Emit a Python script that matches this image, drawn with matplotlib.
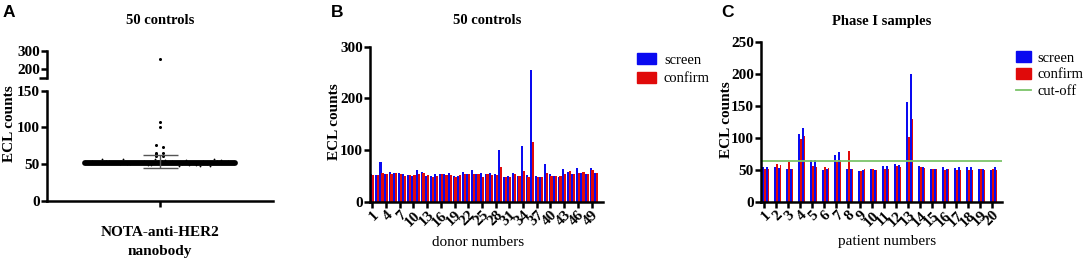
import numpy as np
import matplotlib
matplotlib.use('Agg')
import matplotlib.pyplot as plt
from matplotlib.patches import Patch
from matplotlib.lines import Line2D

W, H = 1084, 261

# panel B: 50 controls, screen / confirm ECL counts
donors = np.arange(1, 51)
donor_screen = [54, 51, 76, 53, 57, 55, 55, 53, 52, 50,
                61, 57, 50, 50, 53, 53, 53, 55, 49, 49,
                57, 54, 61, 54, 56, 53, 55, 53, 100, 48,
                50, 56, 49, 108, 52, 255, 49, 48, 73, 54,
                50, 47, 64, 57, 54, 65, 56, 53, 65, 55]
donor_confirm = [52, 51, 55, 54, 54, 55, 53, 50, 52, 51,
                 54, 55, 51, 48, 50, 54, 52, 52, 48, 51,
                 54, 53, 53, 53, 48, 53, 52, 51, 67, 48,
                 47, 53, 49, 59, 48, 116, 48, 48, 56, 50,
                 50, 50, 54, 59, 54, 55, 57, 54, 62, 55]

# panel C: phase I patients, two samples each
patients = np.arange(1, 21)
pat_screen_1 = [55, 55, 52, 106, 65, 49, 74, 51, 48, 52,
                56, 59, 157, 56, 52, 54, 53, 54, 52, 49]
pat_confirm_1 = [52, 59, 63, 98, 56, 55, 63, 80, 48, 51,
                 52, 56, 102, 55, 51, 50, 50, 50, 52, 51]
pat_screen_2 = [55, 53, 52, 115, 65, 52, 78, 52, 50, 50,
                56, 57, 201, 54, 52, 52, 54, 54, 52, 54]
pat_confirm_2 = [52, 57, 51, 103, 55, 53, 66, 51, 51, 49,
                 52, 55, 130, 53, 51, 52, 49, 50, 50, 50]
cutoff = 64

# panel A: centre line and error bar
a_center = 52
a_err_low, a_err_high = 45, 63

BLUE = '#0a0af0'
RED = '#e00a0a'
GREEN = '#7cc46a'

plt.rcParams['font.family'] = ['Liberation Serif', 'DejaVu Serif']
plt.rcParams['font.weight'] = 'bold'
plt.rcParams['font.size'] = 10

fig = plt.figure(figsize=(W / 100, H / 100), dpi=100)


def box(l, t, r, b):
    return fig.add_axes([l / W, 1 - b / H, (r - l) / W, (b - t) / H])


def style(ax, lw=1.8):
    for s in ['top', 'right']:
        ax.spines[s].set_visible(False)
    for s in ['left', 'bottom']:
        ax.spines[s].set_linewidth(lw)
    ax.tick_params(width=lw, length=4, labelsize=11, pad=1)


def ftext(x, y, s, **kw):
    fig.text(x / W, 1 - y / H, s, **kw)


# ---- panel A ----
axA = box(46.7, 90.7, 273, 201)
axAu = box(46.7, 50.7, 273, 78.3)
style(axA)
style(axAu)
axAu.spines['bottom'].set_visible(False)
axAu.set_xticks([])
axA.set_xlim(-1, 1)
axAu.set_xlim(-1, 1)
axA.set_ylim(0, 150)
axAu.set_ylim(151.6, 300)
axA.set_yticks([0, 50, 100, 150])
axAu.set_yticks([200, 300])
axA.set_xticks([0])
axA.set_xticklabels([''])
axAu.plot([-0.035, 0], [0, 0], transform=axAu.transAxes, color='k', lw=1.8,
          clip_on=False, solid_capstyle='butt')

vals = np.array(donor_screen)
band = vals < 58
xb = np.linspace(-0.6, 0.6, band.sum())
axA.plot(xb, vals[band], 'o', color='k', ms=1.3, mew=0)
axA.plot([-0.66, 0.66], [a_center, a_center], color='k', lw=4.2, solid_capstyle='round')
hi = np.sort(vals[~band])
xo = np.array([(-0.03 if i % 2 == 0 else 0.03) for i in range(len(hi))])
xo[hi > 90] = 0
axA.plot(xo[hi <= 150], hi[hi <= 150], 'o', color='k', ms=2.2, mew=0, clip_on=False)
axAu.plot(xo[hi > 150], hi[hi > 150], 'o', color='k', ms=2.2, mew=0)
axA.errorbar([0], [a_center], yerr=[[a_center - a_err_low], [a_err_high - a_center]],
             fmt='none', ecolor='#555555', elinewidth=1, capsize=12.6, capthick=1)

ftext(160, 20.7, '50 controls', ha='center', va='center', fontsize=10.5)
ftext(9.5, 124, 'ECL counts', ha='center', va='center', rotation=90, fontsize=11)
ftext(160, 233, 'NOTA-anti-HER2', ha='center', va='center', fontsize=11)
ftext(160, 251, 'nanobody', ha='center', va='center', fontsize=11)

# ---- panel B ----
axB = box(370, 46.7, 603, 201.7)
style(axB)
axB.bar(donors - 0.2, donor_screen, width=0.45, color=BLUE, label='screen')
axB.bar(donors + 0.22, donor_confirm, width=0.5, color=RED, label='confirm')
axB.set_xlim(0.5, 51.5)
axB.set_ylim(0, 300)
axB.set_yticks([0, 100, 200, 300])
axB.set_xticks(donors[::3])
axB.set_xticklabels([str(d) for d in donors[::3]], rotation=45, ha='right',
                    rotation_mode='anchor', fontsize=11)
axB.legend(handles=[Patch(color=BLUE, label='screen'), Patch(color=RED, label='confirm')],
           loc='upper left', bbox_to_anchor=(637 / W, 1 - 53 / H),
           bbox_transform=fig.transFigure, frameon=False, borderpad=0, borderaxespad=0,
           handlelength=1.3, handleheight=0.8, handletextpad=0.55, labelspacing=0.35,
           prop={'family': 'Liberation Serif', 'weight': 'normal', 'size': 10.5})
ftext(487, 21, '50 controls', ha='center', va='center', fontsize=10.5)
ftext(334, 122, 'ECL counts', ha='center', va='center', rotation=90, fontsize=11)
ftext(478, 242, 'donor numbers', ha='center', va='center', fontsize=11, fontweight='normal')

# ---- panel C ----
axC = box(760.7, 42.3, 1001.7, 201.7)
style(axC)
bw = 0.15
axC.bar(patients - 0.08, pat_screen_1, width=bw, color=BLUE)
axC.bar(patients + 0.07, pat_confirm_1, width=bw, color=RED)
axC.bar(patients + 0.26, pat_screen_2, width=bw, color=BLUE)
axC.bar(patients + 0.37, pat_confirm_2, width=bw, color=RED)
axC.axhline(cutoff, color=GREEN, lw=1.3)
axC.set_xlim(0.725, 20.8)
axC.set_ylim(0, 250)
axC.set_yticks(np.arange(0, 251, 50))
axC.set_xticks(patients)
axC.set_xticklabels([str(p) for p in patients], rotation=45, ha='right',
                    rotation_mode='anchor', fontsize=11)
axC.legend(handles=[Patch(color=BLUE, label='screen'), Patch(color=RED, label='confirm'),
                    Line2D([], [], color=GREEN, lw=1.3, label='cut-off')],
           loc='upper left', bbox_to_anchor=(1016 / W, 1 - 51 / H),
           bbox_transform=fig.transFigure, frameon=False, borderpad=0, borderaxespad=0,
           handlelength=1.0, handleheight=0.8, handletextpad=0.5, labelspacing=0.22,
           prop={'family': 'Liberation Serif', 'weight': 'normal', 'size': 10.5})
ftext(882, 22, 'Phase I samples', ha='center', va='center', fontsize=10.5)
ftext(726, 120, 'ECL counts', ha='center', va='center', rotation=90, fontsize=11)
ftext(887, 241, 'patient numbers', ha='center', va='center', fontsize=11, fontweight='normal')

# panel letters
for x, s in [(3, 'A'), (331, 'B'), (721, 'C')]:
    ftext(x, 5, s, ha='left', va='top', fontsize=12.5, fontweight='bold',
          family='Liberation Sans')

fig.savefig('out.png', dpi=100)
